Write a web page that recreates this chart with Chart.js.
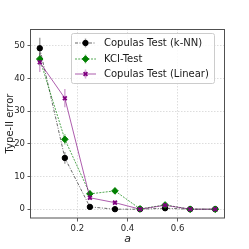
<!DOCTYPE html>
<html>
<head>
<meta charset="utf-8">
<script src="https://cdn.jsdelivr.net/npm/chart.js@4"></script>
<style>
html,body{margin:0;padding:0;background:#fff;}
#wrap{width:249px;height:249px;}
</style>
</head>
<body>
<div id="wrap"><canvas id="c" width="249" height="249"></canvas></div>
<script>
const aValues = [0.05, 0.15, 0.25, 0.35, 0.45, 0.55, 0.65, 0.75];
const knnErr = [49.3, 15.7, 0.7, 0.0, 0.0, 0.3, 0.0, 0.0];
const knnSd  = [3.2, 1.8, 0.5, 0.2, 0.0, 0.4, 0.0, 0.0];
const kciErr = [46.0, 21.4, 4.7, 5.6, 0.1, 1.3, 0.0, 0.0];
const kciSd  = [2.0, 1.6, 1.0, 1.0, 0.2, 0.6, 0.0, 0.0];
const linErr = [45.0, 34.0, 3.5, 2.0, 0.0, 1.2, 0.0, 0.0];
const linSd  = [3.0, 2.8, 0.7, 0.6, 0.0, 0.5, 0.0, 0.0];
const seriesLabels = ['Copulas Test (k-NN)', 'KCI-Test', 'Copulas Test (Linear)'];
const xTicks = [0.2, 0.4, 0.6];
const yTicks = [0, 10, 20, 30, 40, 50];

const FONT = 'DejaVu Sans';
const toXY = (vals) => vals.map((v, i) => ({x: aValues[i], y: v}));

const series = [
  {label: seriesLabels[0], vals: knnErr, sd: knnSd, color: '#000000', line: 'rgba(0,0,0,0.75)', err: 'rgba(0,0,0,0.35)', style: 'circle', r: 2.7, dash: [3, 1.5, 1, 1.5], bw: 1},
  {label: seriesLabels[1], vals: kciErr, sd: kciSd, color: '#008000', line: 'rgba(0,128,0,0.85)', err: 'rgba(0,128,0,0.35)', style: 'rectRot', r: 3.3, dash: [2, 1.2], bw: 1},
  {label: seriesLabels[2], vals: linErr, sd: linSd, color: '#800080', line: 'rgba(128,0,128,0.8)', err: 'rgba(128,0,128,0.35)', style: 'crossRot', r: 2.7, dash: [], bw: 1.8}
];

const errorBars = {
  id: 'errorBars',
  beforeDatasetsDraw(chart) {
    const ctx = chart.ctx, xs = chart.scales.x, ys = chart.scales.y;
    ctx.save();
    ctx.lineWidth = 1.5;
    series.forEach((s) => {
      ctx.strokeStyle = s.err;
      s.vals.forEach((v, i) => {
        if (s.sd[i] <= 0) return;
        const px = xs.getPixelForValue(aValues[i]);
        ctx.beginPath();
        ctx.moveTo(px, ys.getPixelForValue(v - s.sd[i]));
        ctx.lineTo(px, ys.getPixelForValue(v + s.sd[i]));
        ctx.stroke();
      });
    });
    ctx.restore();
  }
};

const frameAndLegend = {
  id: 'frameAndLegend',
  afterDraw(chart) {
    const ctx = chart.ctx, a = chart.chartArea;
    ctx.save();
    ctx.strokeStyle = '#505050';
    ctx.lineWidth = 1;
    ctx.strokeRect(Math.round(a.left) - 0.5, Math.round(a.top) + 0.5, Math.round(a.right - a.left) + 1, Math.round(a.bottom - a.top) - 0.5);
    // legend
    const lx = 71, ly = 33, lw = 143, lh = 50;
    ctx.beginPath();
    ctx.roundRect(lx + 0.5, ly + 0.5, lw, lh, 2);
    ctx.fillStyle = 'rgba(255,255,255,0.85)';
    ctx.fill();
    ctx.strokeStyle = '#cccccc';
    ctx.stroke();
    const rows = [43, 59, 74];
    series.forEach((s, i) => {
      const y = rows[i];
      ctx.save();
      ctx.strokeStyle = s.line;
      ctx.lineWidth = 0.8;
      ctx.setLineDash(s.dash);
      ctx.beginPath(); ctx.moveTo(75, y); ctx.lineTo(96, y); ctx.stroke();
      ctx.setLineDash([]);
      ctx.strokeStyle = s.err; ctx.lineWidth = 1.5;
      ctx.beginPath(); ctx.moveTo(85.5, y - 4.5); ctx.lineTo(85.5, y + 4.5); ctx.stroke();
      ctx.fillStyle = s.color; ctx.strokeStyle = s.color; ctx.lineWidth = s.bw;
      Chart.helpers.drawPoint(ctx, {pointStyle: s.style, radius: s.r, borderWidth: s.bw, rotation: 0}, 85.5, y);
      ctx.restore();
      ctx.fillStyle = '#1a1a1a';
      ctx.font = '10px "' + FONT + '"';
      ctx.textBaseline = 'middle';
      ctx.textAlign = 'left';
      ctx.fillText(s.label, 104, y + 0.5);
    });
    ctx.restore();
  }
};

new Chart(document.getElementById('c'), {
  type: 'line',
  data: {
    datasets: series.map((s, i) => ({
      label: s.label,
      data: toXY(s.vals),
      borderColor: s.line,
      borderWidth: 0.8,
      borderDash: s.dash,
      pointStyle: s.style,
      pointRadius: s.r,
      pointBorderWidth: s.bw,
      pointBackgroundColor: s.color,
      pointBorderColor: s.color,
      fill: false,
      tension: 0,
      order: 3 - i
    }))
  },
  options: {
    responsive: false,
    animation: false,
    events: [],
    layout: {padding: {left: 4, right: 25, top: 29, bottom: 3}},
    plugins: {legend: {display: false}, tooltip: {enabled: false}},
    scales: {
      x: {
        type: 'linear', min: 0.015, max: 0.785,
        afterFit(s) { s.height = 28; },
        afterBuildTicks(s) { s.ticks = xTicks.map(v => ({value: v})); },
        grid: {color: '#d4d4d4', lineWidth: 0.8, tickColor: '#333', tickLength: 3.5, tickWidth: 0.8},
        border: {display: false, dash: [1.5, 1.5]},
        ticks: {color: '#262626', font: {family: FONT, size: 8.5}, padding: 2, maxRotation: 0, callback: v => v.toFixed(1)},
        title: {display: true, text: 'a', color: '#1a1a1a', font: {family: FONT, size: 11, style: 'italic'}, padding: 0}
      },
      y: {
        type: 'linear', min: -2.7, max: 55.2,
        afterFit(s) { s.width = 27; },
        afterBuildTicks(s) { s.ticks = yTicks.map(v => ({value: v})); },
        grid: {color: '#d4d4d4', lineWidth: 0.8, tickColor: '#333', tickLength: 3.5, tickWidth: 0.8},
        border: {display: false, dash: [1.5, 1.5]},
        ticks: {color: '#262626', font: {family: FONT, size: 8.5}, padding: 2.5, callback: v => String(v)},
        title: {display: true, text: 'Type-II error', color: '#1a1a1a', font: {family: FONT, size: 10}, padding: 0}
      }
    }
  },
  plugins: [errorBars, frameAndLegend]
});
</script>
</body>
</html>
